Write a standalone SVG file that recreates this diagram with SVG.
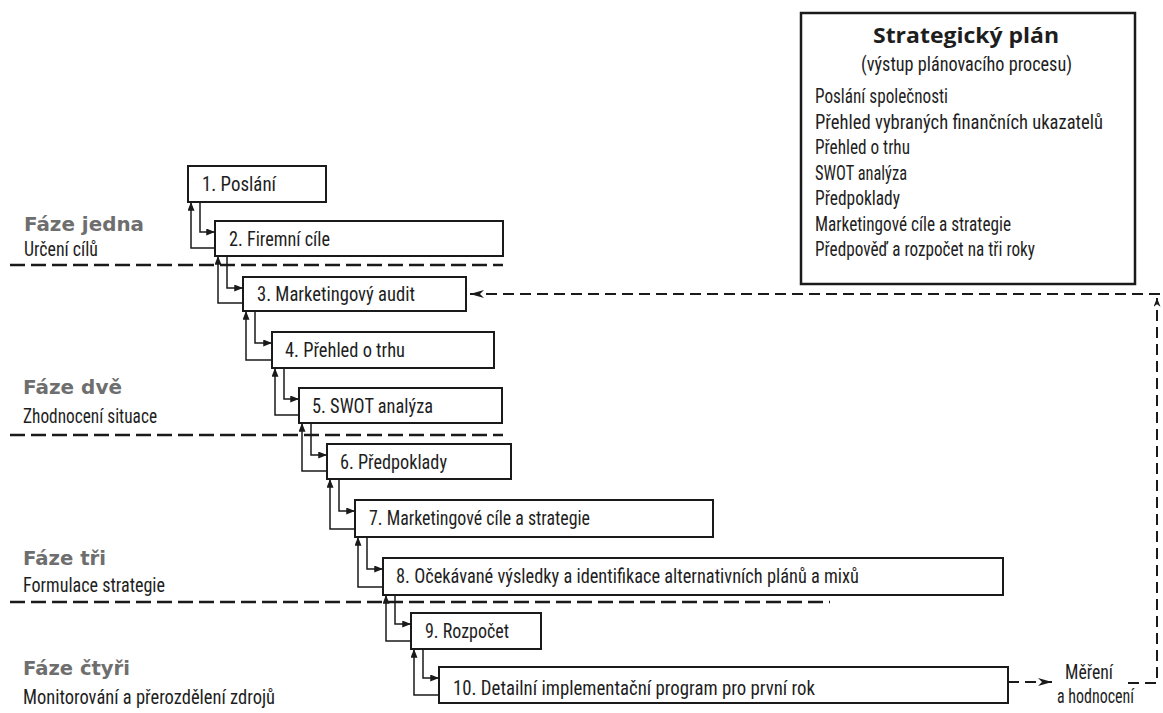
<svg xmlns="http://www.w3.org/2000/svg" width="1163" height="713" viewBox="0 0 1163 713">
<defs>
<style>
.box{fill:#fff;stroke:#1a1a1a;stroke-width:2}
.lbl{font-family:"Liberation Sans Narrow","Roboto Condensed","DejaVu Sans Condensed","Liberation Sans",sans-serif;font-size:21px;fill:#1e1e1e}
.ttl{font-family:"Open Sans","Liberation Sans",sans-serif;font-weight:bold;font-size:22px;fill:#1e1e1e}
.phase{font-family:"DejaVu Sans","Liberation Sans",sans-serif;font-weight:bold;font-size:19px;fill:#6e6e6e}
.sep{stroke:#1a1a1a;stroke-width:2.5;stroke-dasharray:15 6;fill:none}
.con{stroke:#1a1a1a;stroke-width:1.5;fill:none;marker-end:url(#ah)}
.fb{stroke:#1a1a1a;stroke-width:2;stroke-dasharray:11 6;fill:none}
</style>
<marker id="ah" viewBox="0 0 10 8" refX="10" refY="4" markerWidth="9" markerHeight="7" markerUnits="userSpaceOnUse" orient="auto"><path d="M0,0 L10,4 L0,8 z" fill="#1a1a1a"/></marker>
<marker id="fa" viewBox="0 0 14 8" refX="14" refY="4" markerWidth="14" markerHeight="8" markerUnits="userSpaceOnUse" orient="auto"><path d="M0,0 L14,4 L0,8 L4,4 z" fill="#1a1a1a"/></marker>
<marker id="fs" viewBox="0 0 10 8" refX="10" refY="4" markerWidth="9" markerHeight="7" markerUnits="userSpaceOnUse" orient="auto"><path d="M0,0 L10,4 L0,8 L3,4 z" fill="#1a1a1a"/></marker>
</defs>
<rect width="1163" height="713" fill="#fff"/>

<g id="separators">
<path class="sep" d="M10,265 H503"/>
<path class="sep" d="M10,435 H503"/>
<path class="sep" d="M10,602 H830"/>
</g>

<g id="phases">
<text class="phase" x="24" y="231" textLength="120" lengthAdjust="spacingAndGlyphs">Fáze jedna</text>
<text class="lbl" x="24" y="256" textLength="74" lengthAdjust="spacingAndGlyphs">Určení cílů</text>
<text class="phase" x="23" y="394" textLength="99" lengthAdjust="spacingAndGlyphs">Fáze dvě</text>
<text class="lbl" x="23" y="423" textLength="134" lengthAdjust="spacingAndGlyphs">Zhodnocení situace</text>
<text class="phase" x="23" y="565" textLength="83" lengthAdjust="spacingAndGlyphs">Fáze tři</text>
<text class="lbl" x="23" y="592" textLength="142" lengthAdjust="spacingAndGlyphs">Formulace strategie</text>
<text class="phase" x="23" y="675" textLength="107" lengthAdjust="spacingAndGlyphs">Fáze čtyři</text>
<text class="lbl" x="23" y="704" textLength="252" lengthAdjust="spacingAndGlyphs">Monitorování a přerozdělení zdrojů</text>
</g>

<g id="connectors">
<path class="con" d="M200,202 V232 H215"/>
<path class="con" d="M215,248 H191 V202"/>
<path class="con" d="M227,256 V288 H243"/>
<path class="con" d="M243,303 H218 V256"/>
<path class="con" d="M255,311 V343 H272"/>
<path class="con" d="M272,360 H246 V311"/>
<path class="con" d="M284,368 V399 H299"/>
<path class="con" d="M299,415 H275 V368"/>
<path class="con" d="M311,423 V455 H327"/>
<path class="con" d="M327,471 H302 V423"/>
<path class="con" d="M339,479 V511 H355"/>
<path class="con" d="M355,529 H330 V479"/>
<path class="con" d="M367,537 V569 H383"/>
<path class="con" d="M383,587 H358 V537"/>
<path class="con" d="M395,595 V624 H411"/>
<path class="con" d="M411,641 H386 V595"/>
<path class="con" d="M423,649 V678 H439"/>
<path class="con" d="M439,695 H414 V649"/>
<path class="fb" d="M1008,682 H1052" marker-end="url(#fa)"/>
<path class="fb" d="M1128,683 H1157 V298" marker-end="url(#fs)"/>
<path class="fb" d="M1160,294 H470" marker-end="url(#fa)"/>
</g>

<g id="node-1"><rect class="box" x="188" y="166" width="138" height="36"/><text class="lbl" x="202" y="191" textLength="74" lengthAdjust="spacingAndGlyphs">1. Poslání</text></g>
<g id="node-2"><rect class="box" x="215" y="221" width="288" height="35"/><text class="lbl" x="229" y="246" textLength="101" lengthAdjust="spacingAndGlyphs">2. Firemní cíle</text></g>
<g id="node-3"><rect class="box" x="243" y="277" width="223" height="34"/><text class="lbl" x="257" y="301" textLength="158" lengthAdjust="spacingAndGlyphs">3. Marketingový audit</text></g>
<g id="node-4"><rect class="box" x="272" y="332" width="222" height="36"/><text class="lbl" x="285" y="357" textLength="120" lengthAdjust="spacingAndGlyphs">4. Přehled o trhu</text></g>
<g id="node-5"><rect class="box" x="299" y="388" width="203" height="35"/><text class="lbl" x="312" y="413" textLength="121" lengthAdjust="spacingAndGlyphs">5. SWOT analýza</text></g>
<g id="node-6"><rect class="box" x="327" y="444" width="184" height="35"/><text class="lbl" x="340" y="469" textLength="107" lengthAdjust="spacingAndGlyphs">6. Předpoklady</text></g>
<g id="node-7"><rect class="box" x="355" y="500" width="358" height="37"/><text class="lbl" x="369" y="525" textLength="221" lengthAdjust="spacingAndGlyphs">7. Marketingové cíle a strategie</text></g>
<g id="node-8"><rect class="box" x="383" y="558" width="620" height="37"/><text class="lbl" x="396" y="583" textLength="463" lengthAdjust="spacingAndGlyphs">8. Očekávané výsledky a identifikace alternativních plánů a mixů</text></g>
<g id="node-9"><rect class="box" x="411" y="613" width="130" height="36"/><text class="lbl" x="425" y="638" textLength="84" lengthAdjust="spacingAndGlyphs">9. Rozpočet</text></g>
<g id="node-10"><rect class="box" x="439" y="667" width="569" height="36"/><text class="lbl" x="453" y="695" textLength="362" lengthAdjust="spacingAndGlyphs">10. Detailní implementační program pro první rok</text></g>

<g id="node-measure">
<text class="lbl" x="1065" y="679" textLength="48" lengthAdjust="spacingAndGlyphs">Měření</text>
<text class="lbl" x="1057" y="703" textLength="77" lengthAdjust="spacingAndGlyphs">a hodnocení</text>
</g>

<g id="node-plan">
<rect x="801" y="13" width="334" height="271" fill="#fff" stroke="#1a1a1a" stroke-width="2.5"/>
<text class="ttl" x="873" y="43" textLength="186" lengthAdjust="spacingAndGlyphs">Strategický plán</text>
<text class="lbl" x="861" y="71" textLength="211" lengthAdjust="spacingAndGlyphs">(výstup plánovacího procesu)</text>
<text class="lbl" x="815" y="103" textLength="133" lengthAdjust="spacingAndGlyphs">Poslání společnosti</text>
<text class="lbl" x="815" y="128.5" textLength="288" lengthAdjust="spacingAndGlyphs">Přehled vybraných finančních ukazatelů</text>
<text class="lbl" x="815" y="154" textLength="95" lengthAdjust="spacingAndGlyphs">Přehled o trhu</text>
<text class="lbl" x="815" y="179.5" textLength="92" lengthAdjust="spacingAndGlyphs">SWOT analýza</text>
<text class="lbl" x="815" y="205" textLength="85" lengthAdjust="spacingAndGlyphs">Předpoklady</text>
<text class="lbl" x="815" y="230.5" textLength="196" lengthAdjust="spacingAndGlyphs">Marketingové cíle a strategie</text>
<text class="lbl" x="815" y="256" textLength="220" lengthAdjust="spacingAndGlyphs">Předpověď a rozpočet na tři roky</text>
</g>
</svg>
